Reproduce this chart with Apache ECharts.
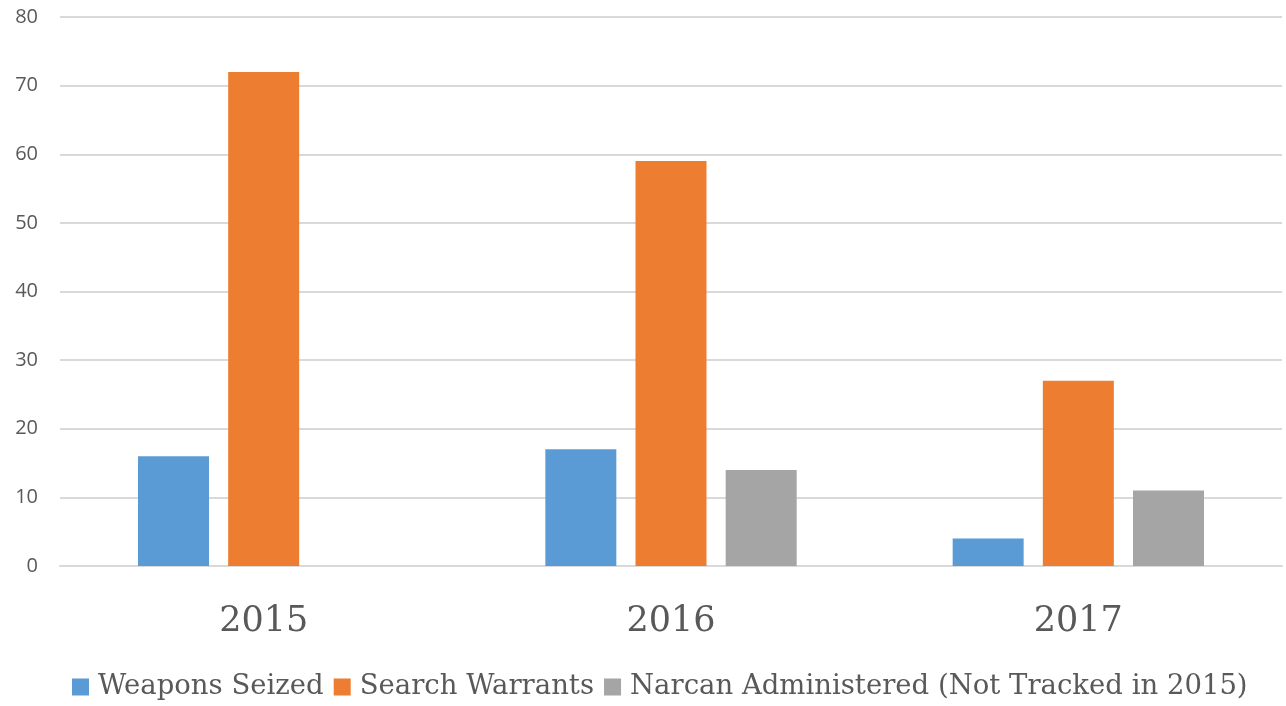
<!DOCTYPE html>
<html lang="en">
    <head>
        <meta charset="UTF-8" />
        <script src="https://cdn.jsdelivr.net/npm/echarts@6.0.0/dist/echarts.min.js"></script>
        <title>Weapons, Warrants, Narcan</title>
        <style>
            html, body {
                margin: 0;
                padding: 0;
                background: #ffffff;
            }

            #chart {
                width: 1286px;
                height: 706px;
            }
        </style>
    </head>

    <body>
        <div id="chart"></div>
        <script type="text/javascript">
            var years = ["2015", "2016", "2017"];
            var weaponsSeized = [16, 17, 4];
            var searchWarrants = [72, 59, 27];
            var narcanAdministered = [null, 14, 11];

            var myChart = echarts.init(document.getElementById("chart"));

            var option = {
                animation: false,
                color: ["#5b9bd5", "#ed7d31", "#a5a5a5"],
                grid: {
                    left: 60,
                    right: 4,
                    top: 17,
                    bottom: 140,
                },
                legend: {
                    bottom: 0,
                    left: 67,
                    itemWidth: 17,
                    itemHeight: 17,
                    itemGap: 10,
                    icon: "rect",
                    textStyle: {
                        fontFamily: "DejaVu Serif",
                        fontSize: 27.5,
                        color: "#595959",
                        padding: [0, 0, 0, 4],
                    },
                },
                xAxis: {
                    type: "category",
                    data: years,
                    axisTick: { show: false },
                    axisLine: {
                        lineStyle: { color: "#d9d9d9", width: 2 },
                    },
                    axisLabel: {
                        margin: 38,
                        fontFamily: "DejaVu Serif",
                        fontSize: 35,
                        color: "#595959",
                    },
                },
                yAxis: {
                    type: "value",
                    min: 0,
                    max: 80,
                    interval: 10,
                    axisLine: { show: false },
                    axisTick: { show: false },
                    axisLabel: {
                        margin: 22,
                        fontFamily: "Open Sans",
                        fontSize: 20,
                        color: "#595959",
                    },
                    splitLine: {
                        lineStyle: { color: "#d9d9d9", width: 2 },
                    },
                },
                series: [
                    {
                        name: "Weapons Seized",
                        type: "bar",
                        data: weaponsSeized,
                        barWidth: 71,
                        barGap: "27%",
                    },
                    {
                        name: "Search Warrants",
                        type: "bar",
                        data: searchWarrants,
                        barWidth: 71,
                        barGap: "27%",
                    },
                    {
                        name: "Narcan Administered (Not Tracked in 2015)",
                        type: "bar",
                        data: narcanAdministered,
                        barWidth: 71,
                        barGap: "27%",
                    },
                ],
            };

            myChart.setOption(option);
        </script>
    </body>
</html>
